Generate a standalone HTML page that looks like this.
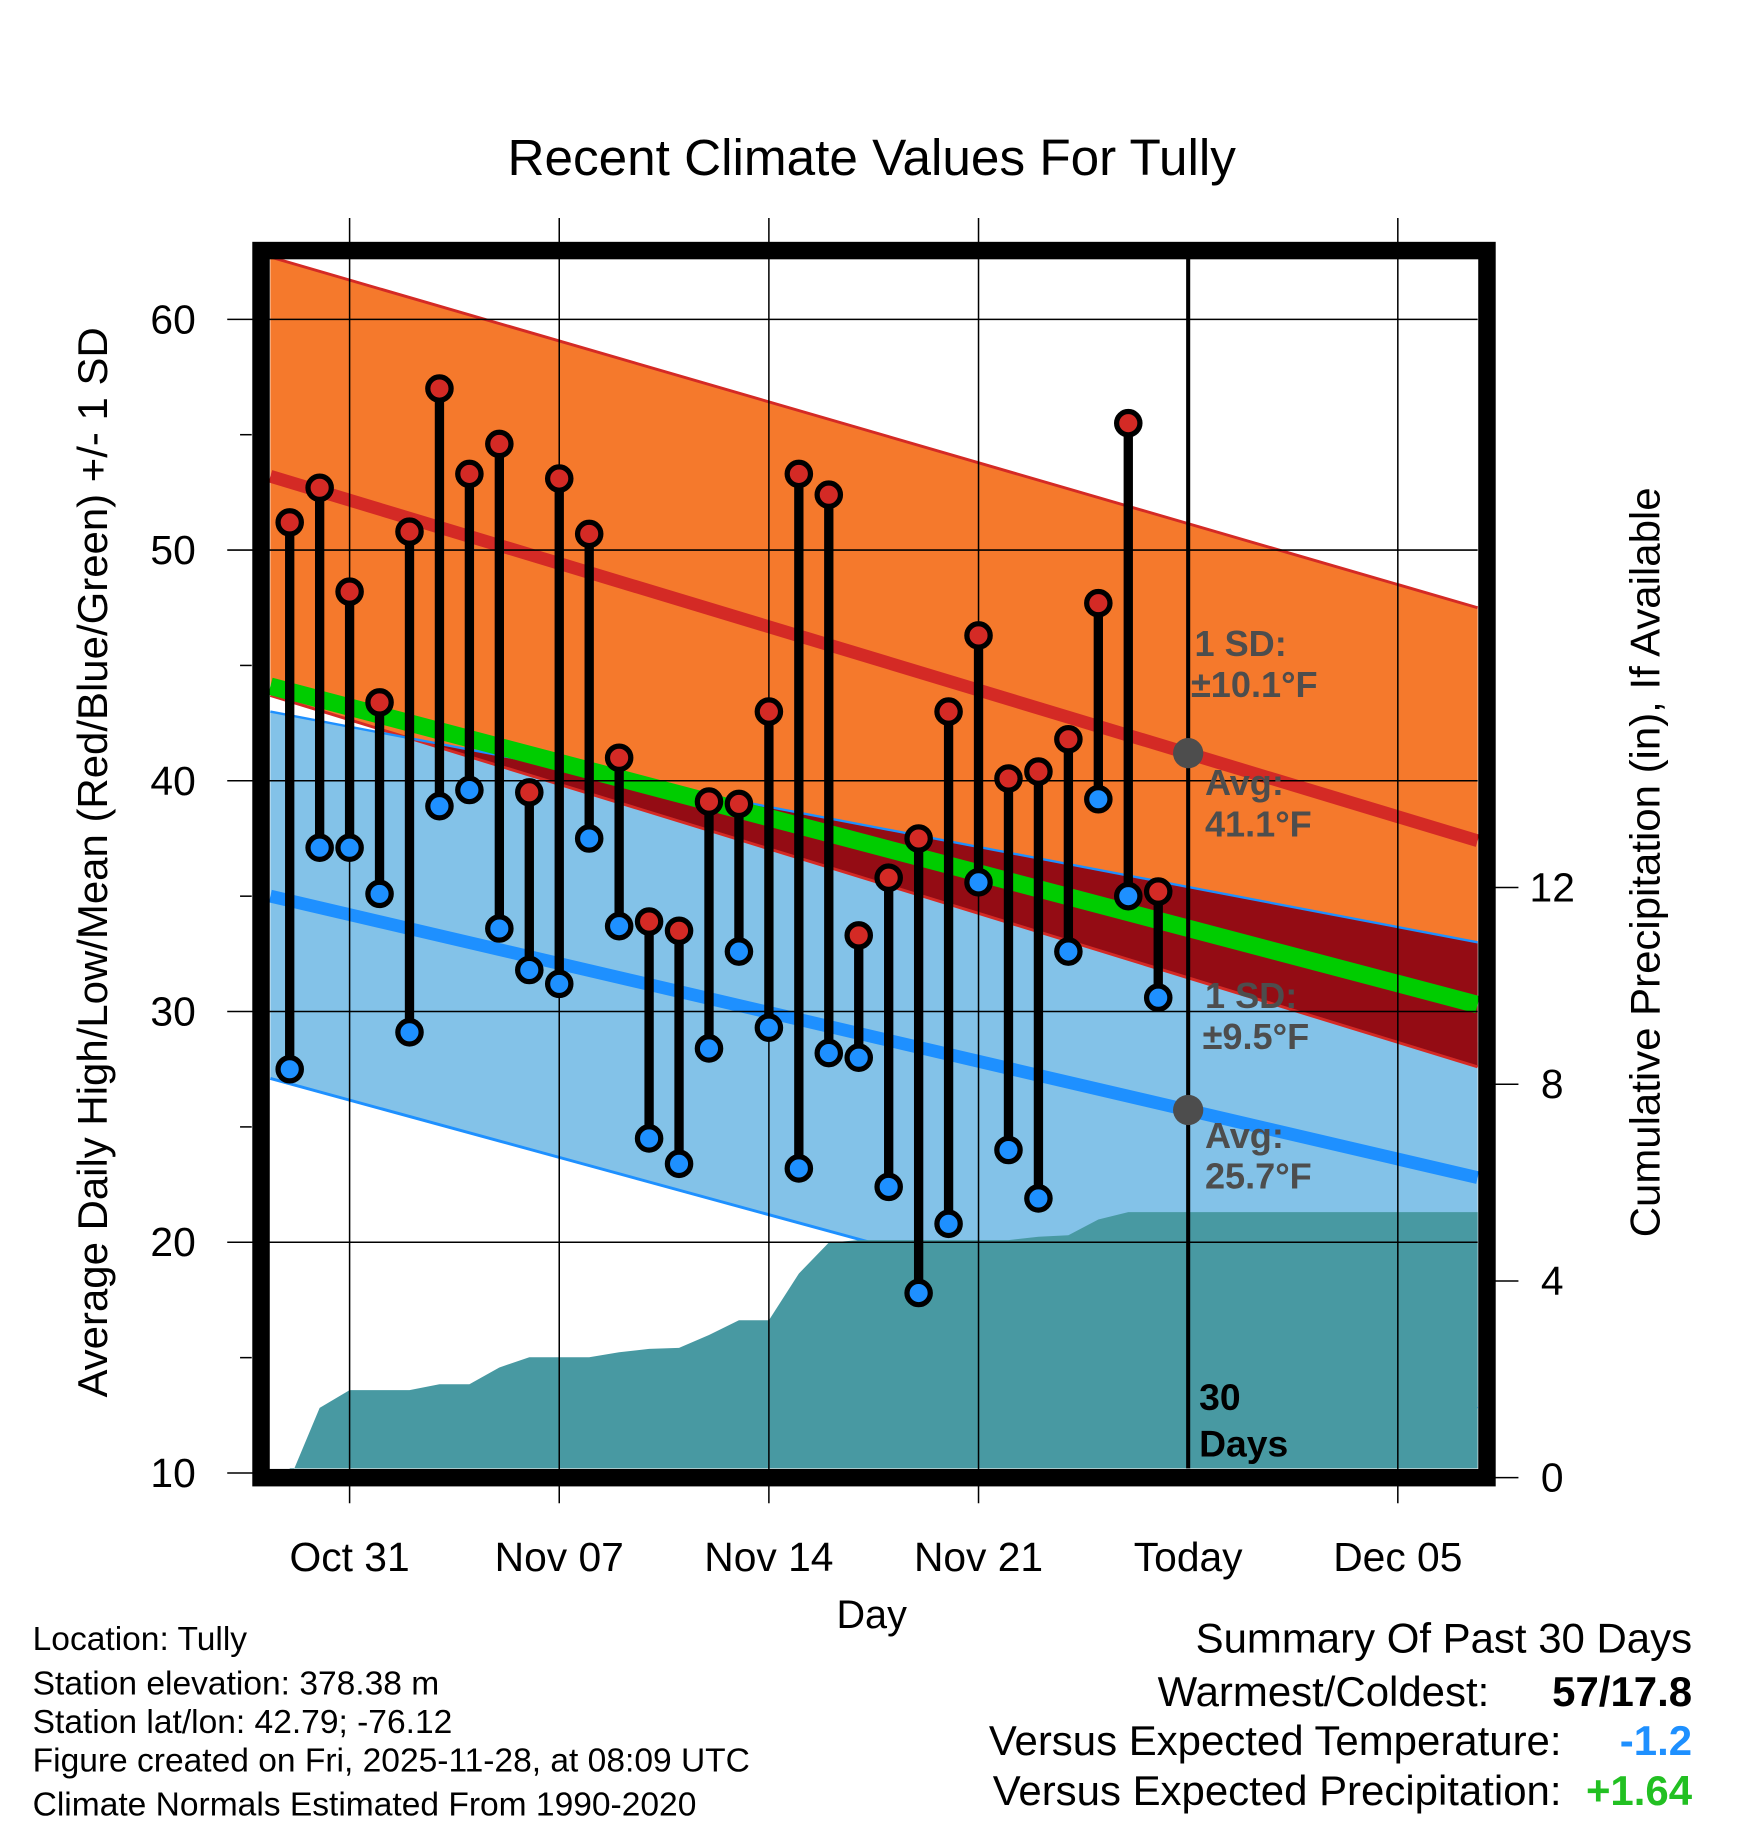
<!DOCTYPE html>
<html><head><meta charset="utf-8"><style>
html,body{margin:0;padding:0;background:#fff;}
svg{display:block;font-family:"Liberation Sans",sans-serif;}
</style></head><body>
<svg id="chart" width="1748" height="1828" viewBox="0 0 1500 1568.6" xmlns="http://www.w3.org/2000/svg">
<text x="748" y="150" font-size="44" text-anchor="middle">Recent Climate Values For Tully</text>
<g id="plot"></g>
<g id="axes"></g>
<text x="748" y="1397" font-size="34" text-anchor="middle">Day</text>
<text transform="translate(92,740) rotate(-90)" font-size="36" text-anchor="middle">Average Daily High/Low/Mean (Red/Blue/Green) +/- 1 SD</text>
<text transform="translate(1424,740) rotate(-90)" font-size="36" text-anchor="middle">Cumulative Precipitation (in), If Available</text>
<g font-size="28.8">
<text x="28" y="1416">Location: Tully</text>
<text x="28" y="1454">Station elevation: 378.38 m</text>
<text x="28" y="1487">Station lat/lon: 42.79; -76.12</text>
<text x="28" y="1520">Figure created on Fri, 2025-11-28, at 08:09 UTC</text>
<text x="28" y="1558">Climate Normals Estimated From 1990-2020</text>
</g>
<g font-size="36" text-anchor="end">
<text x="1452" y="1418">Summary Of Past 30 Days</text>
<text x="1278" y="1464">Warmest/Coldest:</text>
<text x="1452" y="1464" font-weight="bold">57/17.8</text>
<text x="1340" y="1506">Versus Expected Temperature:</text>
<text x="1452" y="1506" font-weight="bold" fill="#1e90ff">-1.2</text>
<text x="1340" y="1549">Versus Expected Precipitation:</text>
<text x="1452" y="1549" font-weight="bold" fill="#22c022">+1.64</text>
</g>
</svg>
<script>
const days = ["Oct 29","Oct 30","Oct 31","Nov 1","Nov 2","Nov 3","Nov 4","Nov 5","Nov 6","Nov 7","Nov 8","Nov 9","Nov 10","Nov 11","Nov 12","Nov 13","Nov 14","Nov 15","Nov 16","Nov 17","Nov 18","Nov 19","Nov 20","Nov 21","Nov 22","Nov 23","Nov 24","Nov 25","Nov 26","Nov 27"];
const highs = [51.2,52.7,48.2,43.4,50.8,57.0,53.3,54.6,39.5,53.1,50.7,41.0,33.9,33.5,39.1,39.0,43.0,53.3,52.4,33.3,35.8,37.5,43.0,46.3,40.1,40.4,41.8,47.7,55.5,35.2];
const lows = [27.5,37.1,37.1,35.1,29.1,38.9,39.6,33.6,31.8,31.2,37.5,33.7,24.5,23.4,28.4,32.6,29.3,23.2,28.2,28.0,22.4,17.8,20.8,35.6,24.0,21.9,32.6,39.2,35.0,30.6];
const precip = [0.05,1.42,1.78,1.78,1.78,1.9,1.9,2.24,2.45,2.45,2.45,2.55,2.62,2.64,2.9,3.2,3.2,4.15,4.78,4.83,4.83,4.83,4.83,4.83,4.83,4.9,4.93,5.25,5.4,5.4];
const normEnds = {highUp:[62.7,47.5],highMean:[53.2,37.4],highLow:[43.7,27.6],lowUp:[43.0,33.0],lowMean:[35.0,22.8],lowLow:[27.1,12.8],mean:[44.1,30.3]};
const xTickLabels = ["Oct 31","Nov 07","Nov 14","Nov 21","Today","Dec 05"];
const yTicks = [10,20,30,40,50,60];
const y2Ticks = [0,4,8,12];

const NS="http://www.w3.org/2000/svg";
const L=232,R=1268,T=222,B=1260;
const X0=-2.65, X1=37.7;
const xs = d => 300 + d*25.7;
const ys = v => 1264 - (v-10)*19.8;
const yp = v => 1268 - v*42.2;
function mk(tag, attrs, parent){const e=document.createElementNS(NS,tag);for(const k in attrs)e.setAttribute(k,attrs[k]);parent.appendChild(e);return e;}
const plot=document.getElementById('plot'), axes=document.getElementById('axes');
const lin=(ends,d)=>ends[0]+(ends[1]-ends[0])*(d-X0)/(X1-X0);
const ptsLine=(ends)=>[[L,ys(ends[0])],[R,ys(ends[1])]];
function poly(top,bot,fill,name){
  const p=[[L,ys(top[0])],[R,ys(top[1])],[R,ys(bot[1])],[L,ys(bot[0])]];
  const e=mk('polygon',{points:p.map(a=>a.join(',')).join(' '),fill:fill},plot);
  
  
}
poly(normEnds.highUp,normEnds.highLow,'#f5792c','high-sd-band');
poly(normEnds.lowUp,normEnds.lowLow,'#83c2e8','low-sd-band');
{
  const diffL=normEnds.highLow[0]-normEnds.lowUp[0], diffR=normEnds.highLow[1]-normEnds.lowUp[1];
  const t=diffL/(diffL-diffR); const dx=X0+t*(X1-X0);
  const xc=xs(dx), yc=ys(lin(normEnds.lowUp,dx));
  const p=[[xc,yc],[R,ys(normEnds.lowUp[1])],[R,ys(normEnds.highLow[1])]];
  const e=mk('polygon',{points:p.map(a=>a.join(',')).join(' '),fill:'#940c14'},plot);
  
  
}
function line(ends,color,w,name){
  const p=ptsLine(ends);
  const e=mk('line',{x1:p[0][0],y1:p[0][1],x2:p[1][0],y2:p[1][1],stroke:color,'stroke-width':w},plot);
  
  
}
line(normEnds.highUp,'#d42a25',2.5,'high-upper-line');
line(normEnds.highLow,'#d42a25',2.5,'high-lower-line');
line(normEnds.lowUp,'#1e90ff',2,'low-upper-line');
line(normEnds.lowLow,'#1e90ff',2.5,'low-lower-line');
line(normEnds.highMean,'#d42a25',11,'high-mean-line');
line(normEnds.lowMean,'#1e90ff',11,'low-mean-line');
line(normEnds.mean,'#00cc00',15,'mean-line');
{
  let p=[[xs(-2),ys(10)+4]];
  precip.forEach((v,i)=>p.push([xs(i-2)+(i==0?4:0),Math.min(yp(v),B)]));
  p.push([R,yp(precip[precip.length-1])]);p.push([R,B]);p.push([xs(-2),B]);
  const e=mk('polygon',{points:p.map(a=>a.join(',')).join(' '),fill:'#4899a2'},plot);
  
  
}
xTickLabels.forEach((lab,i)=>{
  const x=xs(i*7);
  if(lab!=="Today"){const g=mk('line',{x1:x,y1:187,x2:x,y2:1290,stroke:'#000','stroke-width':1.3},axes);
  }
  const t=mk('text',{x:x,y:1348,'font-size':35,'text-anchor':'middle'},axes);t.textContent=lab;
  
  
});
yTicks.forEach(v=>{
  const y=ys(v);
  const g=mk('line',{x1:195,y1:y,x2:R,y2:y,stroke:'#000','stroke-width':1.3},axes);
  
  
  const t=mk('text',{x:168,y:y+12,'font-size':35,'text-anchor':'end'},axes);t.textContent=v;
  
  
  if(v<60){const m=mk('line',{x1:206,y1:ys(v+5),x2:216,y2:ys(v+5),stroke:'#000','stroke-width':1.3},axes);
  }
});
y2Ticks.forEach(v=>{
  const y=yp(v);
  const g=mk('line',{x1:1283,y1:y,x2:1303,y2:y,stroke:'#000','stroke-width':1.3},axes);
  
  
  const t=mk('text',{x:1332,y:y+12,'font-size':35,'text-anchor':'middle'},axes);t.textContent=v;
  
  
});
{const e=mk('line',{x1:xs(28),y1:T,x2:xs(28),y2:B,stroke:'#000','stroke-width':3.5},axes);
}
highs.forEach((h,i)=>{
  const x=xs(i-2);
  const s=mk('line',{x1:x,y1:ys(h),x2:x,y2:ys(lows[i]),stroke:'#000','stroke-width':8},axes);
  
  
});
highs.forEach((h,i)=>{
  const x=xs(i-2);
  const a=mk('circle',{cx:x,cy:ys(h),r:10,fill:'#d42a25',stroke:'#000','stroke-width':4.5},axes);
  
  
  const b=mk('circle',{cx:x,cy:ys(lows[i]),r:10,fill:'#1e90ff',stroke:'#000','stroke-width':4.5},axes);
  
  
});
[[lin(normEnds.highMean,28),'today-high-avg-dot'],[lin(normEnds.lowMean,28),'today-low-avg-dot']].forEach(a=>{
  const c=mk('circle',{cx:xs(28),cy:ys(a[0]),r:13,fill:'#4d4d4d'},axes);
  
  
});
const ann=[["1 SD:",1025,563],["±10.1°F",1022,598],["Avg:",1034,682],["41.1°F",1034,718],["1 SD:",1034,865],["±9.5°F",1032,900],["Avg:",1034,985],["25.7°F",1034,1020]];
ann.forEach(a=>{
  const t=mk('text',{x:a[1],y:a[2],'font-size':31,'font-weight':'bold',fill:'#4d4d4d'},axes);t.textContent=a[0];
  
  
});
[["30",1029,1210],["Days",1029,1250]].forEach(a=>{
  const t=mk('text',{x:a[1],y:a[2],'font-size':32,'font-weight':'bold',fill:'#000'},axes);t.textContent=a[0];
  
  
});
{const f=mk('rect',{x:L-8,y:T-7,width:R-L+16,height:B-T+15,fill:'none',stroke:'#000','stroke-width':15},axes);
}
</script>
</body></html>
